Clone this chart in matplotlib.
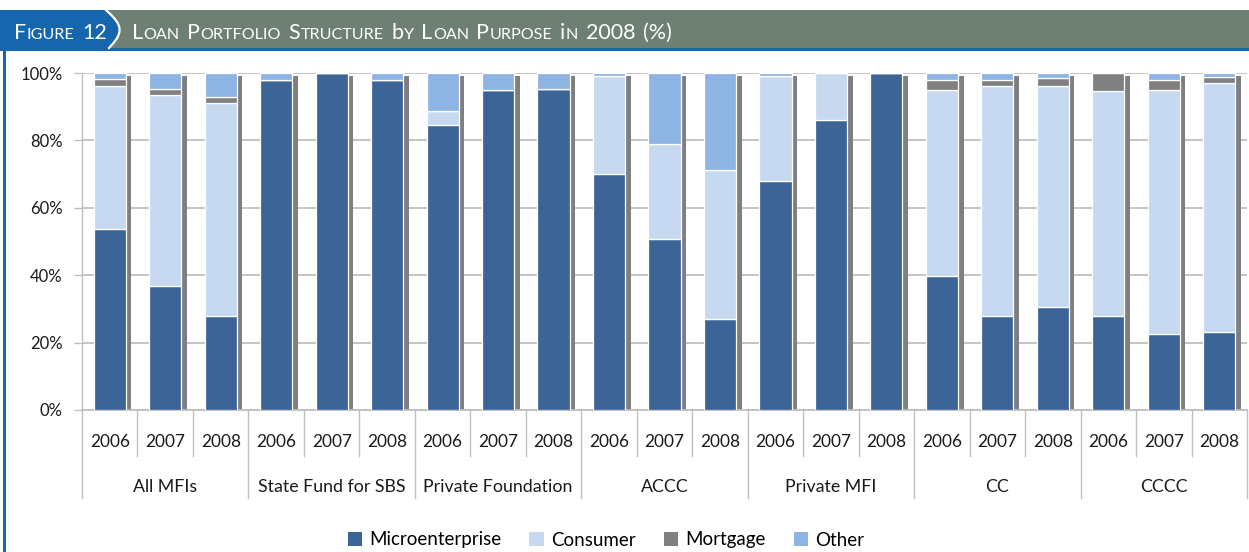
import numpy as np
import matplotlib
matplotlib.use("Agg")
import matplotlib.pyplot as plt
from matplotlib.patches import Rectangle, Polygon, Patch
from matplotlib.lines import Line2D

plt.rcParams['font.family'] = ['Lato', 'DejaVu Sans']

W, H = 1249, 552

groups = ["All MFIs", "State Fund for SBS", "Private Foundation", "ACCC",
          "Private MFI", "CC", "CCCC"]
years = ["2006", "2007", "2008"]

# shares in %, order: per group 2006, 2007, 2008
micro = [53.8, 36.9, 27.8,  97.9, 100.0, 97.9,  84.6, 95.0, 95.4,
         69.9, 50.8, 26.9,  67.9, 86.0, 100.0,  39.7, 27.9, 30.6,
         28.0, 22.6, 23.1]
consumer = [42.2, 56.6, 63.3,  0.0, 0.0, 0.0,  4.2, 0.0, 0.0,
            29.3, 28.1, 44.2,  31.3, 14.0, 0.0,  55.3, 68.2, 65.4,
            66.8, 72.4, 73.9]
mortgage = [2.3, 1.8, 1.9,  0.0, 0.0, 0.0,  0.0, 0.0, 0.0,
            0.0, 0.0, 0.0,  0.0, 0.0, 0.0,  2.9, 1.7, 2.5,
            5.2, 2.9, 1.9]
other = [1.7, 4.7, 7.0,  2.1, 0.0, 2.1,  11.2, 5.0, 4.6,
         0.8, 21.1, 28.9,  0.8, 0.0, 0.0,  2.1, 2.2, 1.5,
         0.0, 2.1, 1.1]

series = ["Microenterprise", "Consumer", "Mortgage", "Other"]
colors = ["#3C6496", "#C6D9F1", "#808080", "#8DB4E2"]

fig = plt.figure(figsize=(W / 100, H / 100), dpi=100)

def fx(px):
    return px / W

def fy(py):
    return 1 - py / H

# header band
fig.patches.append(Rectangle((0, fy(48)), 1, fy(10) - fy(48), transform=fig.transFigure,
                             facecolor="#6E7F74", edgecolor="none", zorder=0))
fig.patches.append(Rectangle((0, fy(51)), 1, fy(48) - fy(51), transform=fig.transFigure,
                             facecolor="#1566AE", edgecolor="none", zorder=0))
t = np.linspace(0, 1, 30)
cx = 106 + 12 * np.sin(np.pi * t) + 3 * t
cy = 10 + 38 * t
pts = [(fx(0), fy(10))] + [(fx(a), fy(b)) for a, b in zip(cx, cy)] + [(fx(0), fy(48))]
fig.patches.append(Polygon(pts, closed=True, transform=fig.transFigure,
                           facecolor="#1566AE", edgecolor="none", zorder=1))
fig.lines.append(Line2D(fx(cx), fy(cy), transform=fig.transFigure, color="white", lw=1.6, zorder=2))
# left border
fig.patches.append(Rectangle((fx(3), 0), fx(3), fy(50), transform=fig.transFigure,
                             facecolor="#1566AE", edgecolor="none", zorder=0))

renderer = fig.canvas.get_renderer()

def small_caps(x0, ybase, text, big=15.5, small=11.6):
    # draws uppercase text with the first letter of each word larger
    pieces = []
    for word in text.split(" "):
        if word[0].isalpha():
            pieces.append((word[0], big))
            if len(word) > 1:
                pieces.append((word[1:].upper(), small))
        else:
            pieces.append((word, big))
        pieces.append((" ", small))
    x = x0
    for s, size in pieces[:-1]:
        if s == " ":
            x += size * 1.389 * 0.42
            continue
        tt = fig.text(fx(x), fy(ybase), s, color="white", fontsize=size,
                      ha="left", va="baseline", zorder=5)
        bb = tt.get_window_extent(renderer)
        x += bb.width + 0.6
    return x

small_caps(14, 39, "Figure 12")
small_caps(132, 39, "Loan Portfolio Structure by Loan Purpose in 2008 (%)")

ax = fig.add_axes([fx(82), fy(410), fx(1247) - fx(82), fy(73) - fy(410)])
x = np.arange(len(micro))
bw = 0.58
vals = [np.array(micro), np.array(consumer), np.array(mortgage), np.array(other)]
total = sum(vals)

# grey side shadow
ax.bar(x + bw / 2 + 0.085 / 2 + 0.015, total - 1.0, 0.085, color="#7F7F7F",
       edgecolor="none", zorder=2)
bottom = np.zeros(len(x))
for v, c, name in zip(vals, colors, series):
    ax.bar(x, v, bw, bottom=bottom, color=c, edgecolor="white", linewidth=0.9,
           label=name, zorder=3)
    bottom += v

ax.set_xlim(-0.5, len(x) - 0.5)
ax.set_ylim(0, 100)
ax.set_yticks(np.arange(0, 101, 20))
ax.set_yticklabels([f"{v}%" for v in range(0, 101, 20)])
ax.yaxis.grid(True, color="#BFBFBF", linewidth=1.3, zorder=0)
ax.set_axisbelow(True)
ax.tick_params(axis="y", length=6, width=1.0, color="#BFBFBF", labelsize=12,
               labelcolor="#1a1a1a", pad=8)
ax.set_xticks([])
for sp in ["top", "right"]:
    ax.spines[sp].set_visible(False)
ax.spines["left"].set_color("#BFBFBF")
ax.spines["bottom"].set_color("#BFBFBF")
ax.spines["left"].set_linewidth(1.0)
ax.spines["bottom"].set_linewidth(1.3)

trans = ax.get_xaxis_transform()
hpx = 337.0
for i in range(len(x) + 1):
    bx = i - 0.5
    y_end = -88 / hpx if i % 3 == 0 else -46 / hpx
    ax.plot([bx, bx], [0, y_end], color="#BFBFBF", lw=1.0, transform=trans,
            clip_on=False)
for i in range(len(x)):
    ax.text(i, -32 / hpx, years[i % 3], ha="center", va="center", fontsize=12.4,
            color="#1a1a1a", transform=trans)
for g, name in enumerate(groups):
    ax.text(3 * g + 1, -77 / hpx, name, ha="center", va="center", fontsize=12.8,
            color="#1a1a1a", transform=trans)

handles = [Patch(facecolor=c, edgecolor="none") for c in colors]
fig.legend(handles, series, loc="center", bbox_to_anchor=(fx(606), fy(540)), ncol=4,
           frameon=False, fontsize=13.5, handlelength=0.75, handleheight=0.75,
           handletextpad=0.4, columnspacing=1.5)

fig.savefig("out.png", dpi=100)
